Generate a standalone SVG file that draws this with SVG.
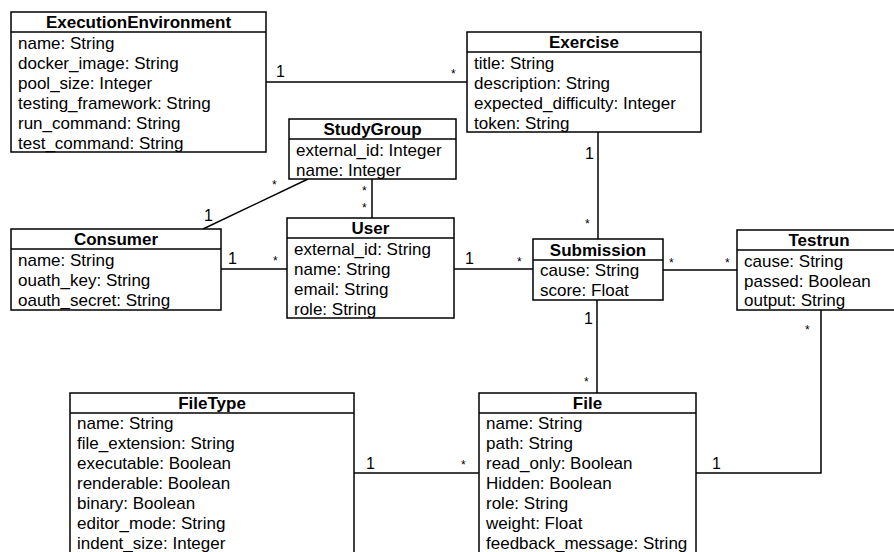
<svg xmlns="http://www.w3.org/2000/svg" width="894" height="552" viewBox="0 0 894 552">
  <style>
    .box { fill: #ffffff; stroke: #000000; stroke-width: 1.5; }
    .div { stroke: #000000; stroke-width: 1.5; }
    .title { font-family: "Liberation Sans", Arial, sans-serif; font-size: 17px; font-weight: bold; text-anchor: middle; fill: #000; }
    .attr { font-family: "Liberation Sans", Arial, sans-serif; font-size: 17px; fill: #000; }
    .edge { fill: none; stroke: #000000; stroke-width: 1.5; }
    .mult { font-family: "Liberation Sans", Arial, sans-serif; font-size: 16px; fill: #000; }
    .star { font-family: "Liberation Sans", Arial, sans-serif; font-size: 12px; fill: #000; }
  </style>
  <rect width="894" height="552" fill="#ffffff"/>

  <!-- associations -->
  <g id="connectors">
    <polyline class="edge" points="266,82 467,82"/>
    <text class="mult" x="276" y="77">1</text>
    <text class="star" x="451" y="78">*</text>

    <polyline class="edge" points="598,132 598,239"/>
    <text class="mult" x="585" y="159">1</text>
    <text class="star" x="585" y="228">*</text>

    <polyline class="edge" points="372,179 372,218"/>
    <text class="star" x="362" y="195">*</text>
    <text class="star" x="362" y="212">*</text>

    <polyline class="edge" points="308,179 203,229"/>
    <text class="star" x="272" y="189">*</text>
    <text class="mult" x="204" y="221">1</text>

    <polyline class="edge" points="221,269 287,269"/>
    <text class="mult" x="228" y="264">1</text>
    <text class="star" x="273" y="265">*</text>

    <polyline class="edge" points="454,269 533,269"/>
    <text class="mult" x="465" y="264">1</text>
    <text class="star" x="517" y="266">*</text>

    <polyline class="edge" points="663,270 737,270"/>
    <text class="star" x="669" y="267">*</text>
    <text class="star" x="725" y="267">*</text>

    <polyline class="edge" points="597,300 597,393"/>
    <text class="mult" x="584" y="324">1</text>
    <text class="star" x="584" y="386">*</text>

    <polyline class="edge" points="821,310 821,473 696,473"/>
    <text class="star" x="805" y="334">*</text>
    <text class="mult" x="712" y="469">1</text>

    <polyline class="edge" points="354,473 479,473"/>
    <text class="mult" x="366" y="469">1</text>
    <text class="star" x="461" y="469">*</text>
  </g>

  <g id="ExecutionEnvironment">
    <rect class="box" x="11" y="12" width="255" height="140"/>
    <line class="div" x1="11" y1="32" x2="266" y2="32"/>
    <text class="title" x="138.5" y="28">ExecutionEnvironment</text>
    <text class="attr" x="18" y="48.5">name: String</text>
    <text class="attr" x="18" y="68.5">docker_image: String</text>
    <text class="attr" x="18" y="88.5">pool_size: Integer</text>
    <text class="attr" x="18" y="108.5">testing_framework: String</text>
    <text class="attr" x="18" y="128.5">run_command: String</text>
    <text class="attr" x="18" y="148.5">test_command: String</text>
  </g>

  <g id="Exercise">
    <rect class="box" x="467" y="32" width="234" height="100"/>
    <line class="div" x1="467" y1="52" x2="701" y2="52"/>
    <text class="title" x="584" y="48">Exercise</text>
    <text class="attr" x="474" y="68.5">title: String</text>
    <text class="attr" x="474" y="88.5">description: String</text>
    <text class="attr" x="474" y="108.5">expected_difficulty: Integer</text>
    <text class="attr" x="474" y="128.5">token: String</text>
  </g>

  <g id="StudyGroup">
    <rect class="box" x="289" y="119" width="167" height="60"/>
    <line class="div" x1="289" y1="139" x2="456" y2="139"/>
    <text class="title" x="372.5" y="135">StudyGroup</text>
    <text class="attr" x="296" y="155.5">external_id: Integer</text>
    <text class="attr" x="296" y="175.5">name: Integer</text>
  </g>

  <g id="Consumer">
    <rect class="box" x="11" y="229" width="210" height="81"/>
    <line class="div" x1="11" y1="249" x2="221" y2="249"/>
    <text class="title" x="116" y="245">Consumer</text>
    <text class="attr" x="18" y="265.5">name: String</text>
    <text class="attr" x="18" y="285.5">ouath_key: String</text>
    <text class="attr" x="18" y="305.5">oauth_secret: String</text>
  </g>

  <g id="User">
    <rect class="box" x="287" y="218" width="167" height="100"/>
    <line class="div" x1="287" y1="238" x2="454" y2="238"/>
    <text class="title" x="370.5" y="234">User</text>
    <text class="attr" x="294" y="254.5">external_id: String</text>
    <text class="attr" x="294" y="274.5">name: String</text>
    <text class="attr" x="294" y="294.5">email: String</text>
    <text class="attr" x="294" y="314.5">role: String</text>
  </g>

  <g id="Submission">
    <rect class="box" x="533" y="239" width="130" height="61"/>
    <line class="div" x1="533" y1="260" x2="663" y2="260"/>
    <text class="title" x="598" y="256">Submission</text>
    <text class="attr" x="540" y="276">cause: String</text>
    <text class="attr" x="540" y="296">score: Float</text>
  </g>

  <g id="Testrun">
    <rect class="box" x="737" y="230" width="170" height="80"/>
    <line class="div" x1="737" y1="250" x2="907" y2="250"/>
    <text class="title" x="819" y="246">Testrun</text>
    <text class="attr" x="744" y="266.5">cause: String</text>
    <text class="attr" x="744" y="286.5">passed: Boolean</text>
    <text class="attr" x="744" y="306">output: String</text>
  </g>

  <g id="FileType">
    <rect class="box" x="70" y="393" width="284" height="180"/>
    <line class="div" x1="70" y1="413" x2="354" y2="413"/>
    <text class="title" x="212" y="409">FileType</text>
    <text class="attr" x="77" y="429">name: String</text>
    <text class="attr" x="77" y="449">file_extension: String</text>
    <text class="attr" x="77" y="469">executable: Boolean</text>
    <text class="attr" x="77" y="489">renderable: Boolean</text>
    <text class="attr" x="77" y="509">binary: Boolean</text>
    <text class="attr" x="77" y="529">editor_mode: String</text>
    <text class="attr" x="77" y="549">indent_size: Integer</text>
  </g>

  <g id="File">
    <rect class="box" x="479" y="393" width="217" height="180"/>
    <line class="div" x1="479" y1="413" x2="696" y2="413"/>
    <text class="title" x="587.5" y="409">File</text>
    <text class="attr" x="486" y="429">name: String</text>
    <text class="attr" x="486" y="449">path: String</text>
    <text class="attr" x="486" y="469">read_only: Boolean</text>
    <text class="attr" x="486" y="489">Hidden: Boolean</text>
    <text class="attr" x="486" y="509">role: String</text>
    <text class="attr" x="486" y="529">weight: Float</text>
    <text class="attr" x="486" y="549">feedback_message: String</text>
  </g>
</svg>
